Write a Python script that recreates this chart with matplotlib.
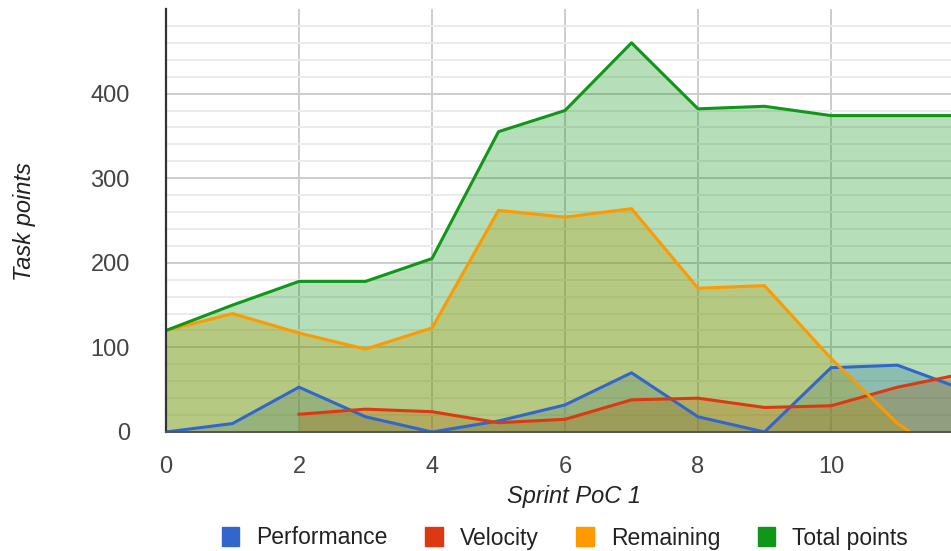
"""Sprint PoC 1 burn chart: task points per sprint day, Google-chart style area plot."""

import matplotlib

matplotlib.use("Agg")
import matplotlib.pyplot as plt
import numpy as np
from matplotlib.patches import Patch

plt.rcParams["font.family"] = ["Liberation Sans", "DejaVu Sans"]

# data
days = [0, 1, 2, 3, 4, 5, 6, 7, 8, 9, 10, 11, 12]
performance = [0, 10, 53, 18, 0, 13, 32, 70, 18, 0, 76, 79, 50]
velocity = [None, None, 21, 27, 24, 11, 15, 38, 40, 29, 31, 53, 69]
remaining = [120, 140, 117, 98, 123, 262, 254, 264, 170, 173, 87, 10, -42]
total_points = [120, 150, 178, 178, 205, 355, 380, 460, 382, 385, 374, 374, 374]

series = [
    ("Performance", performance, "#3366cc"),
    ("Velocity", velocity, "#dc3912"),
    ("Remaining", remaining, "#ff9900"),
    ("Total points", total_points, "#109618"),
]

fig = plt.figure(figsize=(9.51, 5.51), dpi=100)
ax = fig.add_axes([166 / 951, 119 / 551, 785 / 951, 423 / 551])

x = np.array(days, dtype=float)
for name, vals, color in series:
    y = np.array([np.nan if v is None else v for v in vals], dtype=float)
    ok = ~np.isnan(y)
    ax.fill_between(x[ok], y[ok], 0, color=color, alpha=0.3, linewidth=0, zorder=2)
for name, vals, color in series:
    y = np.array([np.nan if v is None else v for v in vals], dtype=float)
    ax.plot(x, y, color=color, linewidth=2.2, zorder=3)

ax.set_xlim(0, 785 / 66.5)
ax.set_ylim(0, 500)

# grid: minor every 20, major every 100, verticals at even days
ax.set_yticks(np.arange(0, 401, 100))
ax.set_yticks(np.arange(0, 500, 20), minor=True)
ax.set_xticks(np.arange(0, 12, 2))
ax.set_axisbelow(True)
ax.grid(axis="y", which="minor", color="#ebebeb", linewidth=1.4)
ax.grid(axis="y", which="major", color="#cccccc", linewidth=1.4)
ax.grid(axis="x", which="major", color="#cccccc", linewidth=1.4)

ax.tick_params(axis="both", which="both", length=0, labelsize=17, labelcolor="#444444")
ax.tick_params(axis="x", pad=17)
ax.tick_params(axis="y", pad=26)

for side in ("top", "right"):
    ax.spines[side].set_visible(False)
ax.spines["left"].set_color("#333333")
ax.spines["left"].set_linewidth(1.6)
ax.spines["bottom"].set_color("#555555")
ax.spines["bottom"].set_linewidth(1.4)
ax.spines["bottom"].set_zorder(4)
ax.spines["left"].set_zorder(4)

fig.text(574 / 951, 1 - 497 / 551, "Sprint PoC 1", ha="center", va="center",
         fontsize=17, style="italic", color="#222222")
fig.text(24 / 951, 1 - 222 / 551, "Task points", ha="center", va="center",
         rotation=90, fontsize=17, style="italic", color="#222222")

handles = [Patch(facecolor=c, edgecolor=c, label=n) for n, _, c in series]
leg = fig.legend(handles=handles, loc="center", ncol=4,
                 bbox_to_anchor=(565 / 951, 1 - 538 / 551), frameon=False,
                 fontsize=16.5, handlelength=0.75, handleheight=0.85,
                 handletextpad=0.75, columnspacing=1.65, borderaxespad=0)
for t in leg.get_texts():
    t.set_color("#222222")

fig.savefig("out.png", dpi=100)
